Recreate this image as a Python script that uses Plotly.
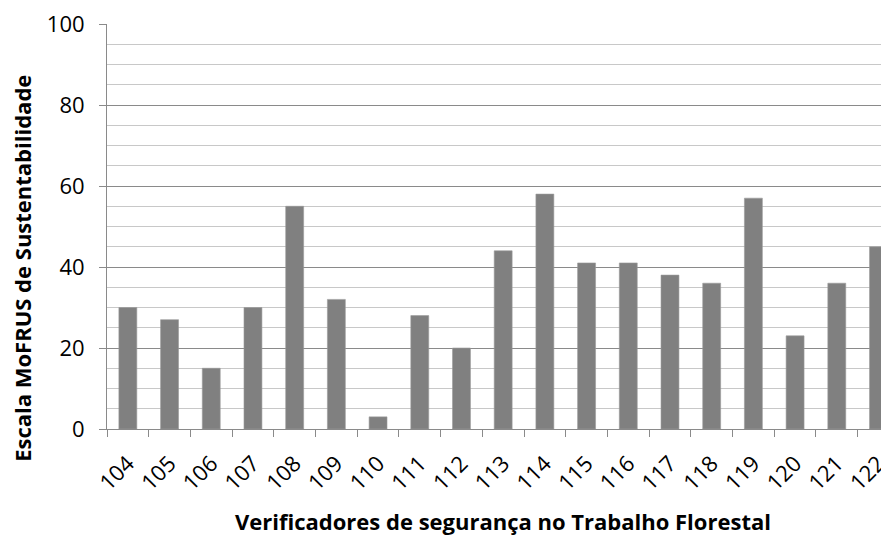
import plotly.graph_objects as go

# Verificadores (códigos) e respetiva pontuação na escala MoFRUS
verificadores = ["104", "105", "106", "107", "108", "109", "110", "111", "112", "113",
                 "114", "115", "116", "117", "118", "119", "120", "121", "122"]
pontuacao = [30, 27, 15, 30, 55, 32, 3, 28, 20, 44,
             58, 41, 41, 38, 36, 57, 23, 36, 45]

y_ticks = [0, 20, 40, 60, 80, 100]

titulo_x = "Verificadores de segurança no Trabalho Florestal"
titulo_y = "Escala MoFRUS de Sustentabilidade"

FONT = "Open Sans, Liberation Sans, sans-serif"

fig = go.Figure(
    go.Bar(
        x=verificadores,
        y=pontuacao,
        marker=dict(color="#808080", line=dict(color="#9a9a9a", width=0.6)),
        hoverinfo="x+y",
    )
)

fig.update_layout(
    width=881,
    height=536,
    margin=dict(l=107, r=0, t=24, b=107),
    paper_bgcolor="white",
    plot_bgcolor="white",
    bargap=0.57,
    showlegend=False,
    font=dict(family=FONT, color="#000"),
    annotations=[
        dict(
            text=f"<b>{titulo_x}</b>",
            xref="paper", yref="paper",
            x=0.512, y=-0.227,
            xanchor="center", yanchor="middle",
            showarrow=False,
            font=dict(size=22, family=FONT, color="#000"),
        ),
        dict(
            text=f"<b>{titulo_y}</b>",
            xref="paper", yref="paper",
            x=-0.110, y=0.3975,
            xanchor="center", yanchor="middle",
            textangle=-90,
            showarrow=False,
            font=dict(size=22, family=FONT, color="#000"),
        ),
    ],
)

fig.update_xaxes(
    type="category",
    range=[-0.5, 18.06],
    tickangle=-45,
    ticks="outside",
    tickson="boundaries",
    ticklen=7,
    tickcolor="#8a8a8a",
    ticklabelstandoff=12,
    showline=True,
    linecolor="#8a8a8a",
    linewidth=1,
    showgrid=False,
    tickfont=dict(size=22, family=FONT, color="#000"),
    automargin=False,
)

fig.update_yaxes(
    range=[0, 100],
    tickvals=y_ticks,
    ticks="outside",
    ticklen=7,
    tickcolor="#8a8a8a",
    ticklabelstandoff=10,
    showline=True,
    linecolor="#8a8a8a",
    linewidth=1,
    showgrid=True,
    gridcolor="#8a8a8a",
    gridwidth=1,
    zeroline=False,
    minor=dict(dtick=5, showgrid=True, gridcolor="#c8c8c8", gridwidth=1, ticks=""),
    tickfont=dict(size=22, family=FONT, color="#000"),
    automargin=False,
)

fig.write_html("out.html")
